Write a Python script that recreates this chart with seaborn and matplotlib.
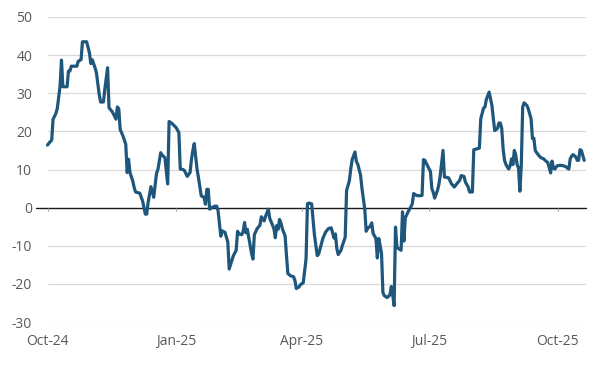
import numpy as np
import pandas as pd
import matplotlib
matplotlib.use("Agg")
import matplotlib.pyplot as plt
import seaborn as sns

# ---- data ----
start_date = "2024-10-01"
day_offset = [0, 1, 3, 4, 6, 7, 9, 10, 11, 14, 15, 16, 17, 21, 22, 24, 25, 28, 30, 31, 32, 34, 35, 37, 38, 40, 41,
              43, 44, 46, 47, 49, 50, 51, 52, 54, 56, 57, 58, 59, 61, 62,
              63, 66, 68, 70, 71, 72, 74, 75, 76, 78, 79, 81, 82, 84, 86, 87, 89, 92, 94, 95, 97, 98, 100, 102, 103,
              104, 105, 107, 108, 110, 112, 113, 114, 115, 116, 118, 120, 121, 122, 124, 125, 127,
              129, 130, 132, 133, 135, 136, 137, 139, 140, 141, 142, 143, 145, 146, 147, 148, 150, 152, 153, 155,
              156, 158, 159, 160, 162, 163, 164, 165, 166, 167, 168, 170, 171, 172, 174, 176, 177, 178, 180, 181,
              183, 185, 186, 187, 189,
              191, 193, 194, 196, 197, 199, 201, 203, 205, 206, 207, 208, 210, 211, 213, 214, 216, 217, 218, 220,
              221, 222, 224, 225, 227, 228, 229, 231, 232, 233, 235, 236, 237, 238, 239, 240, 241, 243, 245, 246,
              247, 248, 249, 250, 251, 253, 254,
              255, 256, 258, 260, 261, 262, 264, 266, 268, 269, 270, 272, 274, 275, 276, 277, 279, 280, 281, 283,
              284, 285, 287, 289, 291, 293, 295, 296, 298, 299, 301, 302, 304, 305, 307, 309, 310, 312, 313, 314,
              316,
              318, 319, 320, 322, 323, 324, 325, 326, 327, 328, 330, 331, 332, 333, 334, 335, 336, 337, 338, 339,
              340, 341, 343, 344, 346, 347, 348, 349, 350, 352, 353, 355, 356, 358, 359, 360, 361, 362, 363, 364,
              365, 367, 369, 371, 373, 374, 375, 376, 378, 379, 380, 381, 382, 384]
values = [16.4, 16.9, 17.7, 23.2, 24.7, 26.0, 31.9, 38.7, 31.7, 31.7, 35.8, 35.8, 37.1, 37.1, 38.4, 38.8, 43.5,
          43.5, 40.6, 37.8, 38.8, 36.7, 35.4, 29.7, 27.7, 27.7, 31.0, 36.7, 26.2, 25.3, 24.7, 23.2, 26.4, 25.9,
          20.5, 18.8, 16.6, 9.2, 12.7, 9.2, 7.0, 5.3,
          4.1, 3.8, 1.8, -1.7, -1.7, 1.4, 5.5, 4.1, 2.7, 9.0, 10.0, 14.4, 13.8, 13.1, 6.2, 22.6, 22.1, 21.0, 19.7,
          10.1, 10.0, 9.7, 8.2, 9.2, 12.7, 15.0, 16.8, 10.1, 7.9, 3.1, 2.7, 0.9, 4.8, 4.8, -0.4, 0.1, 0.4, 0.4,
          -0.7, -7.5, -6.1, -6.5,
          -9.0, -16.1, -13.8, -12.6, -11.2, -6.2, -6.9, -7.1, -6.2, -3.9, -6.6, -5.7, -9.9, -12.0, -13.5, -7.1,
          -5.5, -4.6, -2.4, -3.5, -2.3, -0.4, -2.8, -3.7, -5.5, -7.9, -4.7, -5.7, -3.1, -4.0, -5.5, -7.4, -12.6,
          -17.3, -17.9, -18.1, -19.0, -21.2, -20.8, -20.2, -19.7, -13.4, 1.0, 1.2, 1.0,
          -7.2, -12.6, -12.2, -9.4, -8.1, -6.4, -5.5, -5.3, -8.0, -6.9, -10.7, -12.3, -11.2, -9.9, -7.8, 4.5, 7.1,
          10.2, 12.6, 14.6, 12.1, 11.4, 8.5, 5.0, -0.3, -6.2, -5.5, -4.8, -4.0, -6.8, -8.1, -13.2, -8.1, -9.9,
          -12.0, -22.3, -23.1, -23.6, -22.9, -20.7, -22.9, -25.7, -5.1, -10.3, -10.7, -11.2, -1.1,
          -8.8, -2.7, -1.1, 0.2, 1.0, 3.7, 3.2, 3.1, 3.2, 12.6, 12.4, 10.9, 9.5, 5.0, 4.0, 2.5, 4.5, 6.0, 8.4,
          15.0, 8.0, 8.0, 7.8, 6.3, 5.4, 6.3, 7.2, 8.4, 8.2, 6.7, 5.4, 4.1, 4.1, 15.2, 15.4, 15.6, 23.3, 26.1,
          26.4, 28.4, 30.3,
          26.8, 23.3, 20.2, 20.8, 22.2, 22.2, 20.8, 15.4, 12.4, 11.3, 10.1, 11.0, 12.8, 11.3, 15.0, 13.9, 11.3,
          10.4, 4.3, 11.1, 26.4, 27.5, 26.8, 25.9, 23.3, 18.1, 18.2, 15.0, 14.4, 13.5, 13.1, 12.8, 12.4, 11.8,
          10.4, 9.1, 12.2, 10.4, 10.1, 10.7, 11.0, 11.1, 11.0, 10.7, 10.1, 12.8, 13.5, 13.9, 13.3, 12.4, 12.4,
          15.2, 15.0, 12.4]
tick_dates = ["2024-10-01", "2025-01-01", "2025-04-01", "2025-07-01", "2025-10-01"]
tick_labels = ["Oct-24", "Jan-25", "Apr-25", "Jul-25", "Oct-25"]
y_ticks = [-30, -20, -10, 0, 10, 20, 30, 40, 50]

# ---- style ----
sns.set_theme(style="white")
plt.rcParams["font.family"] = ["Open Sans", "DejaVu Sans"]

start = pd.Timestamp(start_date)
df = pd.DataFrame({"date": start + pd.to_timedelta(day_offset, unit="D"), "value": values})

fig = plt.figure(figsize=(6.02, 3.69), dpi=100)
W, H = 602, 369
ax = fig.add_axes([47.5 / W, 1 - 322 / H, (586 - 47.5) / W, (322 - 17) / H])

for y in y_ticks:
    if y != 0:
        ax.axhline(y, color="#d9d9d9", lw=0.9, zorder=0)
ax.axhline(0, xmin=-0.021, xmax=1, color="#1a1a1a", lw=1.0, clip_on=False, zorder=1)

sns.lineplot(data=df, x="date", y="value", ax=ax, color="#1f567c", linewidth=2.3, zorder=3)
ax.lines[-1].set_clip_on(False)
ax.lines[-1].set_solid_joinstyle("round")

tdates = pd.to_datetime(tick_dates)
ax.vlines(tdates, -0.9, 0, color="#a6a6a6", lw=0.8, zorder=1)

ax.set_xlim(start, start + pd.Timedelta(days=385.3))
ax.set_ylim(-30, 50)
ax.set_yticks(y_ticks)
ax.set_yticklabels([str(v) for v in y_ticks])
ax.set_xticks(tdates)
ax.set_xticklabels(tick_labels)
ax.tick_params(axis="both", length=0, labelsize=10, colors="#595959")
ax.tick_params(axis="x", pad=8.5)
ax.tick_params(axis="y", pad=11)
ax.set_xlabel("")
ax.set_ylabel("")
for s in ax.spines.values():
    s.set_visible(False)

fig.savefig("out.png", dpi=100)
